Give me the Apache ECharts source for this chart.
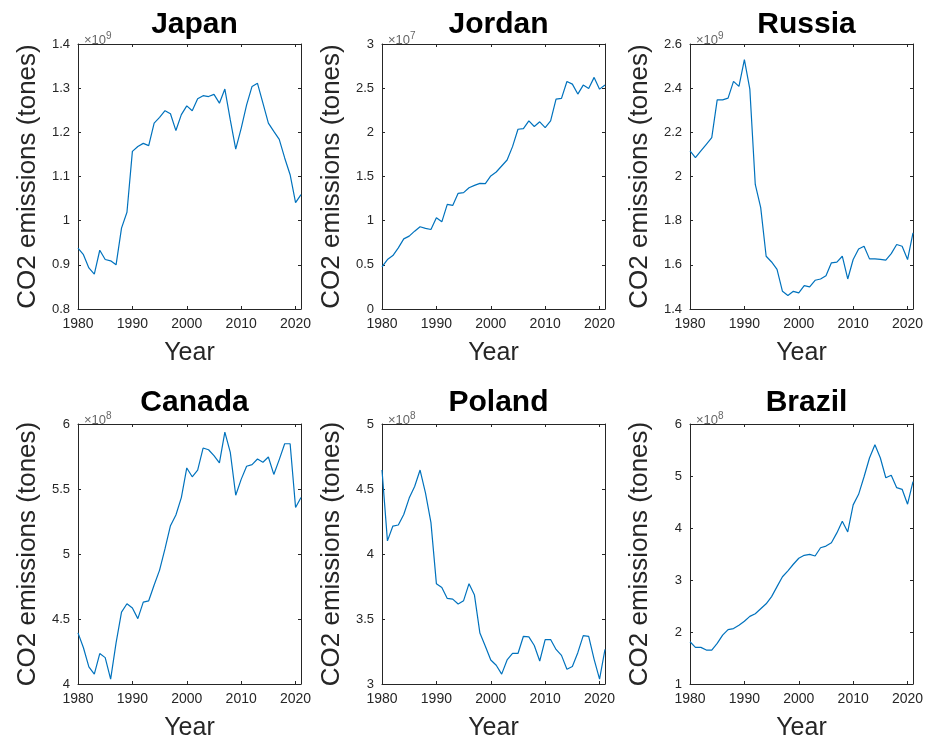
<!DOCTYPE html>
<html>
<head>
<meta charset="utf-8">
<script src="https://cdn.jsdelivr.net/npm/echarts@6/dist/echarts.min.js"></script>
<style>
  html, body { margin: 0; padding: 0; background: #fff; }
  #chart { width: 927px; height: 742px; }
</style>
</head>
<body>
<div id="chart"></div>
<script>
// Annual CO2 emissions 1980-2021, one panel per country.
const firstYear = 1980;
const lastYear = 2021;
const years = [];
for (let y = firstYear; y <= lastYear; y++) years.push(y);

const countries = ['Japan', 'Jordan', 'Russia', 'Canada', 'Poland', 'Brazil'];

// Values are in units of 10^exponent tonnes (exponent per country below).
const japan = [0.938, 0.923, 0.893, 0.879, 0.933, 0.912, 0.909, 0.900, 0.983, 1.019,
  1.157, 1.168, 1.175, 1.170, 1.221, 1.234, 1.249, 1.242, 1.204, 1.240,
  1.260, 1.249, 1.276, 1.283, 1.281, 1.286, 1.266, 1.298, 1.228, 1.162,
  1.209, 1.262, 1.304, 1.311, 1.266, 1.221, 1.202, 1.184, 1.142, 1.104,
  1.041, 1.059];
const jordan = [0.477, 0.560, 0.605, 0.692, 0.794, 0.825, 0.881, 0.931, 0.912, 0.900,
  1.033, 0.987, 1.184, 1.173, 1.309, 1.317, 1.373, 1.400, 1.422, 1.419,
  1.506, 1.551, 1.619, 1.687, 1.838, 2.035, 2.043, 2.130, 2.066, 2.119,
  2.054, 2.130, 2.376, 2.384, 2.576, 2.546, 2.433, 2.535, 2.497, 2.622,
  2.489, 2.535];
const russia = [2.116, 2.086, 2.116, 2.146, 2.176, 2.347, 2.347, 2.355, 2.431, 2.408,
  2.529, 2.396, 1.964, 1.859, 1.639, 1.613, 1.579, 1.480, 1.461, 1.480,
  1.473, 1.506, 1.500, 1.530, 1.536, 1.551, 1.609, 1.612, 1.639, 1.536,
  1.624, 1.672, 1.684, 1.627, 1.627, 1.625, 1.621, 1.651, 1.692, 1.684,
  1.624, 1.745];
const canada = [4.393, 4.279, 4.132, 4.076, 4.234, 4.203, 4.038, 4.317, 4.553, 4.617,
  4.584, 4.503, 4.630, 4.640, 4.761, 4.876, 5.041, 5.218, 5.300, 5.434,
  5.662, 5.594, 5.645, 5.815, 5.802, 5.756, 5.701, 5.937, 5.782, 5.452,
  5.574, 5.675, 5.688, 5.731, 5.706, 5.746, 5.612, 5.726, 5.848, 5.848,
  5.358, 5.434];
const poland = [4.646, 4.101, 4.215, 4.223, 4.304, 4.430, 4.519, 4.646, 4.468, 4.241,
  3.772, 3.742, 3.658, 3.653, 3.615, 3.641, 3.772, 3.684, 3.392, 3.291,
  3.185, 3.144, 3.076, 3.185, 3.235, 3.235, 3.367, 3.362, 3.296, 3.177,
  3.342, 3.342, 3.266, 3.220, 3.114, 3.134, 3.241, 3.372, 3.367, 3.190,
  3.038, 3.266];
const brazil = [1.812, 1.704, 1.704, 1.653, 1.653, 1.780, 1.939, 2.047, 2.066, 2.129,
  2.206, 2.301, 2.352, 2.447, 2.542, 2.681, 2.872, 3.062, 3.176, 3.303,
  3.418, 3.475, 3.494, 3.462, 3.621, 3.652, 3.716, 3.906, 4.128, 3.925,
  4.445, 4.648, 4.985, 5.346, 5.600, 5.346, 4.966, 5.016, 4.775, 4.744,
  4.458, 4.890];

const seriesValues = [japan, jordan, russia, canada, poland, brazil];
const exponents = [9, 7, 9, 8, 8, 8];
const yMin = [0.8, 0, 1.4, 4, 3, 1];
const yMax = [1.4, 3, 2.6, 6, 5, 6];
const yStep = [0.1, 0.5, 0.2, 0.5, 0.5, 1];
const xStep = 10;

// Panel layout (pixels)
const colLeft = [78, 382, 690];
const panelWidth = 223;
const rowTop = [44, 424];
const rowHeight = [265, 263];
const titleTop = [5, 383];

const ink = '#262626';
const lineBlue = '#0072BD';
const font = '"Liberation Sans", Arial, sans-serif';

const grids = [], xAxes = [], yAxes = [], series = [], titles = [];

countries.forEach((name, i) => {
  const col = i % 3, row = Math.floor(i / 3);
  const left = colLeft[col], top = rowTop[row];
  grids.push({ left: left, top: top, width: panelWidth, height: rowHeight[row], containLabel: false });

  const boxLine = { show: true, onZero: false, lineStyle: { color: ink, width: 1 } };
  const tick = { show: true, inside: true, length: 3, lineStyle: { color: ink, width: 1 } };

  xAxes.push({
    type: 'value', gridIndex: i, position: 'bottom',
    min: firstYear, max: lastYear, interval: xStep,
    axisLine: boxLine, axisTick: tick, splitLine: { show: false },
    axisLabel: {
      color: ink, fontSize: 14, fontFamily: font, margin: 8,
      formatter: v => (v % xStep === 0 ? String(v) : '')
    },
    name: 'Year', nameLocation: 'middle', nameGap: 32,
    nameTextStyle: { color: ink, fontSize: 25, fontFamily: font }
  });
  xAxes.push({
    type: 'value', gridIndex: i, position: 'top',
    min: firstYear, max: lastYear, interval: xStep,
    axisLine: boxLine, axisTick: tick, splitLine: { show: false },
    axisLabel: { show: false }
  });
  yAxes.push({
    type: 'value', gridIndex: i, position: 'left',
    min: yMin[i], max: yMax[i], interval: yStep[i],
    axisLine: boxLine, axisTick: tick, splitLine: { show: false },
    axisLabel: { color: ink, fontSize: 13, fontFamily: font, margin: 8 },
    name: 'CO2 emissions (tones)', nameLocation: 'middle', nameGap: 37,
    nameTextStyle: { color: ink, fontSize: 26, fontFamily: font }
  });
  yAxes.push({
    type: 'value', gridIndex: i, position: 'right',
    min: yMin[i], max: yMax[i], interval: yStep[i],
    axisLine: boxLine, axisTick: tick, splitLine: { show: false },
    axisLabel: { show: false }
  });

  series.push({
    type: 'line', xAxisIndex: 2 * i, yAxisIndex: 2 * i,
    data: years.map((y, k) => [y, seriesValues[i][k]]),
    showSymbol: false, symbol: 'none', smooth: false,
    lineStyle: { color: lineBlue, width: 1.2 },
    animation: false
  });

  titles.push({
    text: name, left: left + panelWidth / 2, top: titleTop[row], textAlign: 'center',
    textStyle: { color: '#000', fontSize: 30, fontWeight: 'bold', fontFamily: font }
  });
  titles.push({
    text: '{b|×10}{s|' + exponents[i] + '}', left: left + 1, top: top - 18,
    textStyle: {
      fontWeight: 'normal',
      rich: {
        b: { fontSize: 13, fontWeight: 'normal', color: '#666', fontFamily: font, lineHeight: 16, verticalAlign: 'bottom' },
        s: { fontSize: 10, fontWeight: 'normal', color: '#666', fontFamily: font, verticalAlign: 'top' }
      }
    }
  });
});

const chart = echarts.init(document.getElementById('chart'), null, { renderer: 'canvas' });
chart.setOption({
  backgroundColor: '#fff',
  animation: false,
  title: titles,
  grid: grids,
  xAxis: xAxes,
  yAxis: yAxes,
  series: series
});
</script>
</body>
</html>
